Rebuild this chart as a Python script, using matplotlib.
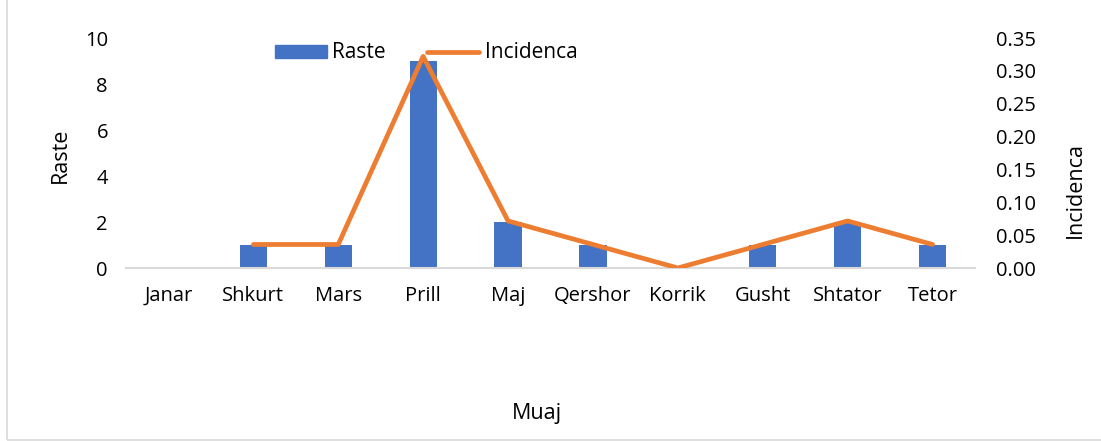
import numpy as np
import matplotlib
matplotlib.use("Agg")
import matplotlib.pyplot as plt
from matplotlib.patches import Rectangle
from matplotlib.lines import Line2D

months = ["Janar", "Shkurt", "Mars", "Prill", "Maj", "Qershor", "Korrik", "Gusht", "Shtator", "Tetor"]
raste = [0, 1, 1, 9, 2, 1, 0, 1, 2, 1]
incidenca = [np.nan, 0.0358, 0.0358, 0.322, 0.0716, 0.0358, 0.0, 0.0358, 0.0716, 0.0358]

plt.rcParams['font.family'] = ['Open Sans', 'DejaVu Sans']
fs = 14.5
W, H = 1101, 441

fig = plt.figure(figsize=(11.01, 4.41), dpi=100)
ax = fig.add_axes([126/W, 1-268/H, (975-126)/W, (268-38)/H])
x = np.arange(len(months))
ax.bar(x, raste, width=0.32, color="#4472C4", zorder=2)
ax.set_xlim(-0.5, len(months)-0.5)
ax.set_ylim(0, 10)
ax.set_yticks([0, 2, 4, 6, 8, 10])
ax.set_xticks(x)
ax.set_xticklabels(months)
for s in ["top", "left", "right"]:
    ax.spines[s].set_visible(False)
ax.spines["bottom"].set_color("#D9D9D9")
ax.spines["bottom"].set_linewidth(1.5)
ax.tick_params(axis="both", length=0, labelsize=fs, colors="black")
ax.tick_params(axis="x", pad=13)
ax.tick_params(axis="y", pad=13)

ax2 = ax.twinx()
ax2.plot(x, incidenca, color="#ED7D31", linewidth=3.4, solid_capstyle="round", solid_joinstyle="round", zorder=3)
ax2.set_ylim(0, 0.35)
ax2.set_yticks(np.arange(0, 0.36, 0.05))
ax2.set_yticklabels([f"{v:.2f}" for v in np.arange(0, 0.36, 0.05)])
for s in ["top", "left", "right", "bottom"]:
    ax2.spines[s].set_visible(False)
ax2.tick_params(axis="y", length=0, labelsize=fs, pad=15)

fig.text(60/W, 1-155/H, "Raste", rotation=90, ha="center", va="center", fontsize=fs+1)
fig.text(1075/W, 1-190/H, "Incidenca", rotation=90, ha="center", va="center", fontsize=fs+1)
fig.text(537/W, 1-413/H, "Muaj", ha="center", va="center", fontsize=fs+1)

handles = [Rectangle((0, 0), 1, 1, color="#4472C4"),
           Line2D([0], [0], color="#ED7D31", linewidth=3.4, solid_capstyle="round")]
fig.legend(handles, ["Raste", "Incidenca"], loc="center", bbox_to_anchor=(426/W, 1-53/H),
           ncol=2, frameon=False, fontsize=fs+0.5, handlelength=2.5, handleheight=0.6,
           columnspacing=2.0, handletextpad=0.25, borderpad=0)

fig.patches.append(Rectangle((7/W, 0.002), 1.2, 1.2, transform=fig.transFigure,
                             fill=False, edgecolor="#D9D9D9", linewidth=1.2))
fig.savefig("out.png", dpi=100)
